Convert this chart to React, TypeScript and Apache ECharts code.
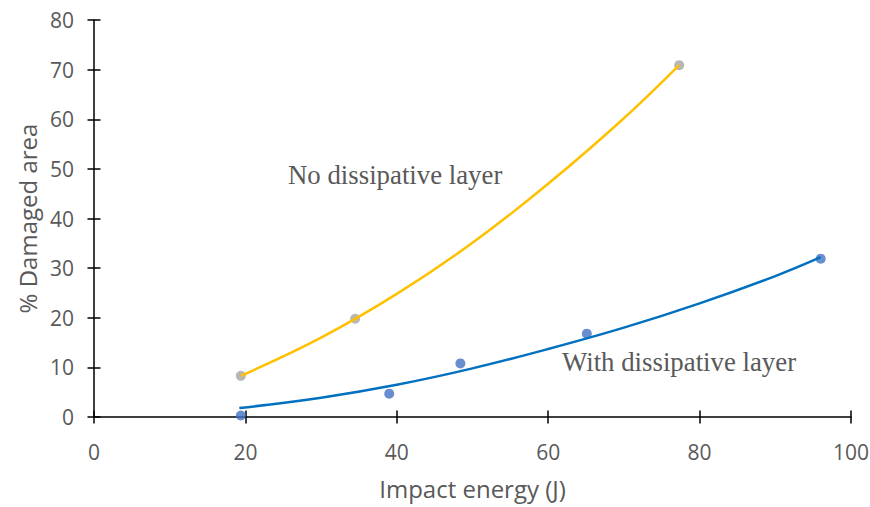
import React, { useEffect, useRef } from "react";
import * as echarts from "echarts";

// Measured points
const noLayerX = [19.4, 34.5, 77.3];
const noLayerY = [8.3, 19.8, 70.9];
const withLayerX = [19.4, 39.0, 48.4, 65.1, 96.0];
const withLayerY = [0.3, 4.7, 10.8, 16.8, 31.9];

// Trendlines
const noTrendX = [19.4, 30, 40, 50, 60, 70, 77.3];
const noTrendY = [8.3, 16.0, 24.8, 35.1, 47.0, 60.2, 70.9];
const withTrendX = [19.2, 30, 40, 50, 60, 70, 80, 90, 96.0];
const withTrendY = [1.8, 3.9, 6.5, 9.8, 13.7, 18.0, 22.9, 28.4, 32.2];

const xTicks = [0, 20, 40, 60, 80, 100];
const yTicks = [0, 10, 20, 30, 40, 50, 60, 70, 80];

const labelNo = "No dissipative layer";
const labelWith = "With dissipative layer";

const zip = (xs: number[], ys: number[]) => xs.map((x, i) => [x, ys[i]]);

const W = 870;
const H = 507;
const G = { left: 94, right: 19, top: 20, bottom: 90 };

export default function App() {
  const ref = useRef<HTMLDivElement>(null);
  useEffect(() => {
    if (!ref.current) return;
    const chart = echarts.init(ref.current, undefined, { renderer: "svg" });
    const font = "'Open Sans', sans-serif";
    const tickStyle = { color: "#000", width: 1.5 };
    const axisCommon = (isX: boolean, ticks: number[]) => ({
      type: "value" as const,
      min: ticks[0],
      max: ticks[ticks.length - 1],
      interval: ticks[1] - ticks[0],
      splitLine: { show: false },
      axisLine: { show: true, onZero: false, lineStyle: { color: "#000", width: 1.5 } },
      axisTick: { show: true, length: 6.5, lineStyle: tickStyle },
      axisLabel: {
        color: "#595959",
        fontFamily: font,
        fontSize: 21,
        margin: isX ? 24 : 20,
      },
    });
    const axisMirror = (ticks: number[], position: string, offset: number) => ({
      type: "value" as const,
      min: ticks[0],
      max: ticks[ticks.length - 1],
      interval: ticks[1] - ticks[0],
      position,
      offset,
      splitLine: { show: false },
      axisLine: { show: false, onZero: false },
      axisLabel: { show: false },
      axisTick: { show: true, length: 6.5, lineStyle: tickStyle },
    });
    const gridH = H - G.top - G.bottom;
    const gridW = W - G.left - G.right;
    chart.setOption({
      animation: false,
      backgroundColor: "#fff",
      grid: { ...G, containLabel: false, outerBoundsMode: "none" },
      xAxis: [
        {
          ...axisCommon(true, xTicks),
          position: "bottom",
          name: "Impact energy (J)",
          nameLocation: "middle",
          nameGap: 59,
          nameTextStyle: { color: "#595959", fontFamily: font, fontSize: 24 },
        },
        axisMirror(xTicks, "top", -gridH),
      ],
      yAxis: [
        {
          ...axisCommon(false, yTicks),
          position: "left",
          name: "% Damaged area",
          nameLocation: "middle",
          nameGap: 53,
          nameTextStyle: { color: "#595959", fontFamily: font, fontSize: 24 },
        },
        axisMirror(yTicks, "right", -gridW),
      ],
      series: [
        {
          type: "line",
          data: zip(noTrendX, noTrendY),
          smooth: 0.4,
          showSymbol: false,
          lineStyle: { color: "#FFC000", width: 2.5 },
          z: 2,
        },
        {
          type: "line",
          data: zip(withTrendX, withTrendY),
          smooth: 0.4,
          showSymbol: false,
          lineStyle: { color: "#0070C0", width: 2.5 },
          z: 2,
        },
        {
          type: "scatter",
          data: zip(noLayerX, noLayerY),
          symbolSize: 10,
          itemStyle: { color: "#A5A5A5" },
          z: 1,
        },
        {
          type: "scatter",
          data: zip(withLayerX, withLayerY),
          symbolSize: 10,
          itemStyle: { color: "#4472C4" },
          z: 1,
        },
      ],
      graphic: [
        {
          type: "text",
          x: 288,
          y: 175,
          style: {
            text: labelNo,
            fill: "#595959",
            font: "26.8px 'Liberation Serif', serif",
            verticalAlign: "middle",
          },
        },
        {
          type: "text",
          x: 562,
          y: 362,
          style: {
            text: labelWith,
            fill: "#595959",
            font: "26.8px 'Liberation Serif', serif",
            verticalAlign: "middle",
          },
        },
      ],
    });
    return () => chart.dispose();
  }, []);
  return <div ref={ref} style={{ position: "fixed", left: 0, top: 0, width: W, height: H }} />;
}
